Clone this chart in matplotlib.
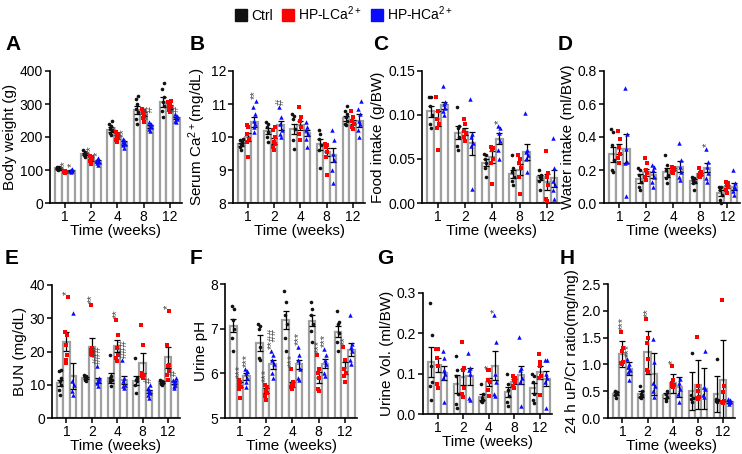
import numpy as np
import matplotlib
matplotlib.use("Agg")
import matplotlib.pyplot as plt
from matplotlib.lines import Line2D

plt.rcParams['font.family'] = ['Liberation Sans', 'DejaVu Sans']
plt.rcParams['mathtext.fontset'] = 'custom'
plt.rcParams['mathtext.rm'] = 'Liberation Sans'
plt.rcParams['mathtext.it'] = 'Liberation Sans'
plt.rcParams['mathtext.bf'] = 'Liberation Sans:bold'

weeks = ["1", "2", "4", "8", "12"]
groups = ["Ctrl", "HP-LCa$^{2+}$", "HP-HCa$^{2+}$"]

# ---------- A: body weight ----------
A_mean = [[105, 148, 222, 282, 305], [95, 133, 200, 270, 292], [98, 125, 182, 232, 258]]
A_sem = [[2, 3, 7, 12, 15], [2, 5, 6, 6, 6], [2, 4, 5, 4, 4]]
A_pts = [
    [[100, 103, 105, 107, 108, 110, 104], [140, 145, 148, 150, 155, 160], [205, 212, 220, 225, 232, 240, 250],
     [240, 255, 275, 285, 300, 315, 325], [260, 280, 295, 305, 320, 345, 365]],
    [[90, 93, 95, 97, 98, 96], [118, 128, 132, 135, 140, 142, 134], [185, 192, 198, 203, 210, 215],
     [245, 258, 265, 272, 280, 285], [275, 283, 290, 295, 300, 305, 310]],
    [[94, 96, 98, 100, 102, 97], [115, 120, 125, 130, 135, 126], [168, 175, 180, 185, 190, 195],
     [218, 225, 230, 235, 240, 245], [245, 250, 255, 260, 265, 270]],
]
A_sig = [["", "", "", "", ""], ["**", "**", "*", "", ""], ["*", "*", "**", "**#", "#"]]

# ---------- B: serum Ca ----------
B_mean = [[9.78, 10.18, 10.25, 9.78, 10.57], [10.0, 9.88, 10.35, 9.55, 10.45], [10.45, 10.35, 10.12, 9.45, 10.5]]
B_sem = [[0.05, 0.1, 0.15, 0.17, 0.08], [0.13, 0.08, 0.13, 0.12, 0.07], [0.15, 0.15, 0.1, 0.22, 0.2]]
B_pts = [
    [[9.6, 9.7, 9.75, 9.8, 9.85, 9.9, 9.95], [9.85, 10.0, 10.15, 10.3, 10.4, 10.45], [9.65, 9.9, 10.25, 10.55, 10.65, 10.7],
     [9.05, 9.6, 9.75, 9.95, 10.1, 10.2], [10.35, 10.4, 10.5, 10.6, 10.7, 10.8, 10.95]],
    [[9.4, 9.85, 9.95, 10.1, 10.3, 10.35], [9.6, 9.7, 9.8, 9.85, 10.0, 10.2, 10.3], [9.9, 10.1, 10.3, 10.5, 10.6, 10.9],
     [8.85, 9.4, 9.55, 9.7, 9.75, 9.8], [10.25, 10.3, 10.4, 10.5, 10.6, 10.8]],
    [[10.15, 10.3, 10.4, 10.5, 10.7, 10.9, 11.1], [10.0, 10.1, 10.2, 10.4, 10.6, 10.9], [9.7, 9.95, 10.1, 10.2, 10.3, 10.45],
     [8.6, 9.0, 9.3, 9.5, 9.9, 10.2], [10.0, 10.2, 10.4, 10.5, 10.7, 10.85, 11.1]],
]
B_sig = [["", "", "", "", ""], ["", "", "", "", ""], ["**", "#", "", "", ""]]

# ---------- C: food intake ----------
C_mean = [[0.104, 0.080, 0.046, 0.033, 0.029], [0.096, 0.081, 0.052, 0.038, 0.024], [0.111, 0.068, 0.073, 0.058, 0.028]]
C_sem = [[0.006, 0.007, 0.004, 0.005, 0.003], [0.008, 0.004, 0.007, 0.006, 0.009], [0.004, 0.013, 0.006, 0.009, 0.01]]
C_pts = [
    [[0.085, 0.09, 0.1, 0.11, 0.12, 0.121], [0.06, 0.065, 0.075, 0.085, 0.088, 0.109], [0.03, 0.04, 0.045, 0.05, 0.055, 0.056],
     [0.02, 0.025, 0.03, 0.035, 0.04, 0.055], [0.015, 0.025, 0.028, 0.03, 0.032, 0.037]],
    [[0.06, 0.085, 0.09, 0.095, 0.105, 0.121], [0.07, 0.075, 0.08, 0.082, 0.09, 0.096], [0.022, 0.045, 0.05, 0.06, 0.062, 0.064],
     [0.01, 0.03, 0.04, 0.045, 0.05, 0.055], [0.002, 0.005, 0.02, 0.03, 0.034, 0.059]],
    [[0.10, 0.105, 0.108, 0.112, 0.115, 0.133], [0.016, 0.065, 0.068, 0.075, 0.078, 0.118], [0.05, 0.06, 0.07, 0.08, 0.085, 0.088],
     [0.035, 0.05, 0.055, 0.058, 0.06, 0.102], [0.005, 0.015, 0.02, 0.025, 0.04, 0.074]],
]
C_sig = [["", "", "", "", ""], ["", "", "", "", ""], ["", "", "*", "", ""]]

# ---------- D: water intake ----------
D_mean = [[0.295, 0.148, 0.185, 0.132, 0.062], [0.325, 0.185, 0.205, 0.175, 0.10], [0.33, 0.17, 0.22, 0.215, 0.10]]
D_sem = [[0.045, 0.025, 0.025, 0.012, 0.018], [0.03, 0.02, 0.008, 0.008, 0.012], [0.09, 0.02, 0.035, 0.03, 0.02]]
D_pts = [
    [[0.19, 0.2, 0.26, 0.35, 0.43, 0.45], [0.08, 0.1, 0.13, 0.17, 0.2, 0.215], [0.12, 0.15, 0.17, 0.2, 0.23, 0.29],
     [0.08, 0.12, 0.13, 0.14, 0.15, 0.155], [0.0, 0.02, 0.05, 0.08, 0.1, 0.1]],
    [[0.24, 0.27, 0.3, 0.34, 0.39, 0.435], [0.14, 0.16, 0.18, 0.2, 0.24, 0.27], [0.18, 0.19, 0.2, 0.21, 0.215, 0.22],
     [0.16, 0.165, 0.17, 0.18, 0.19, 0.21], [0.06, 0.08, 0.1, 0.11, 0.12, 0.13]],
    [[0.045, 0.24, 0.25, 0.33, 0.42, 0.70], [0.1, 0.13, 0.16, 0.2, 0.22, 0.23], [0.14, 0.16, 0.19, 0.22, 0.26, 0.365],
     [0.13, 0.15, 0.18, 0.22, 0.25, 0.33], [0.05, 0.07, 0.09, 0.1, 0.12, 0.2]],
]
D_sig = [["", "", "", "", ""], ["", "", "", "", ""], ["", "", "", "*", ""]]

# ---------- E: BUN ----------
E_mean = [[10.5, 12.0, 12.0, 11.2, 10.7], [23.0, 21.5, 21.8, 16.5, 18.2], [12.6, 11.3, 11.3, 8.0, 10.7]]
E_sem = [[1.0, 0.3, 1.5, 1.3, 0.3], [2.8, 2.6, 1.8, 2.9, 3.3], [4.0, 0.8, 1.2, 0.5, 0.4]]
E_pts = [
    [[7, 8.5, 10, 11, 12, 14, 14.5], [11, 11.5, 12, 12.3, 12.6, 13], [9.5, 11, 11.5, 12, 12.5, 19],
     [7.5, 10, 11, 11.5, 12, 18], [10, 10.3, 10.5, 10.8, 11, 11.5]],
    [[16.5, 17.5, 19, 22, 25, 26, 36.3], [19, 19.5, 20, 20.5, 21, 34], [17, 18, 19, 21, 25, 29.5],
     [12, 12.5, 13, 13.5, 22, 28], [11.5, 13, 14, 15.5, 16, 22, 32.3]],
    [[7, 8, 10, 11, 31.5], [9.5, 10.5, 11, 11.5, 12, 15.5], [9, 9.5, 10, 11, 12, 17.5],
     [6, 7, 7.5, 8, 8.5, 9, 10], [9, 9.5, 10, 10.5, 11, 11.5, 12]],
]
E_sig = [["", "", "", "", ""], ["*", "**", "**", "", "*"], ["", "###", "###", "#", "#"]]

# ---------- F: urine pH ----------
F_mean = [[7.07, 6.68, 7.2, 7.18, 6.93], [5.75, 5.62, 5.75, 5.9, 6.12], [5.93, 6.2, 6.2, 6.22, 6.53]]
F_sem = [[0.15, 0.17, 0.2, 0.12, 0.12], [0.06, 0.05, 0.05, 0.12, 0.13], [0.08, 0.1, 0.1, 0.1, 0.15]]
F_pts = [
    [[6.5, 6.8, 7.0, 7.2, 7.45, 7.5], [6.3, 6.35, 6.6, 7.0, 7.05, 7.1], [6.5, 6.8, 7.1, 7.3, 7.6, 7.85],
     [6.7, 6.95, 7.1, 7.3, 7.45, 7.6], [6.5, 6.7, 6.9, 7.1, 7.15, 7.4]],
    [[5.45, 5.65, 5.7, 5.75, 5.8, 5.85], [5.4, 5.5, 5.55, 5.6, 5.7, 5.75], [5.65, 5.7, 5.72, 5.75, 5.8, 6.1],
     [5.6, 5.65, 5.9, 6.0, 6.1, 6.4], [5.8, 5.95, 6.0, 6.1, 6.3, 6.6]],
    [[5.7, 5.8, 5.9, 6.0, 6.05, 6.1], [5.9, 6.0, 6.2, 6.3, 6.4, 6.5], [5.85, 5.9, 6.1, 6.3, 6.4, 6.6],
     [5.95, 6.0, 6.2, 6.3, 6.4, 6.55], [6.2, 6.3, 6.5, 6.6, 6.65, 7.3]],
]
F_sig = [["", "", "", "", ""], ["***", "***", "***", "***", "**"], ["***", "**##", "***", "***", ""]]

# ---------- G: urine volume ----------
G_mean = [[0.128, 0.075, 0.042, 0.055, 0.064], [0.122, 0.091, 0.080, 0.080, 0.103], [0.102, 0.093, 0.120, 0.096, 0.088]]
G_sem = [[0.037, 0.022, 0.008, 0.012, 0.012], [0.018, 0.02, 0.01, 0.006, 0.015], [0.018, 0.02, 0.035, 0.022, 0.018]]
G_pts = [
    [[0.035, 0.07, 0.08, 0.12, 0.195, 0.275], [0.015, 0.025, 0.05, 0.095, 0.11, 0.145], [0.03, 0.032, 0.035, 0.04, 0.05, 0.075],
     [0.02, 0.03, 0.045, 0.06, 0.075, 0.1], [0.028, 0.035, 0.05, 0.08, 0.095, 0.098]],
    [[0.065, 0.075, 0.12, 0.14, 0.16, 0.16], [0.043, 0.05, 0.065, 0.11, 0.115, 0.178], [0.045, 0.06, 0.08, 0.085, 0.108, 0.108],
     [0.065, 0.07, 0.08, 0.085, 0.09, 0.095], [0.048, 0.09, 0.095, 0.12, 0.13, 0.15]],
    [[0.03, 0.09, 0.1, 0.11, 0.14, 0.155], [0.035, 0.04, 0.1, 0.11, 0.115, 0.152], [0.045, 0.05, 0.08, 0.1, 0.178, 0.245],
     [0.02, 0.08, 0.09, 0.11, 0.115, 0.19], [0.015, 0.08, 0.09, 0.1, 0.133, 0.133]],
]
G_sig = [["", "", "", "", ""], ["", "", "*", "", ""], ["", "", "*", "", ""]]

# ---------- H: uP/Cr ----------
H_mean = [[0.45, 0.45, 0.42, 0.50, 0.45], [1.20, 1.23, 0.65, 0.62, 0.70], [0.92, 0.82, 0.58, 0.55, 0.30]]
H_sem = [[0.03, 0.05, 0.04, 0.36, 0.33], [0.24, 0.40, 0.18, 0.46, 0.75], [0.12, 0.40, 0.18, 0.38, 0.02]]
H_pts = [
    [[0.38, 0.42, 0.44, 0.46, 0.48, 0.5], [0.38, 0.4, 0.42, 0.45, 0.5, 0.6], [0.32, 0.36, 0.4, 0.45, 0.5],
     [0.3, 0.35, 0.38, 0.42, 1.22], [0.3, 0.32, 0.33, 0.35, 1.1]],
    [[1.0, 1.02, 1.05, 1.25, 1.3, 1.6], [0.85, 0.9, 1.1, 1.4, 1.5, 1.85], [0.58, 0.6, 0.62, 0.65, 0.7, 0.97],
     [0.35, 0.38, 0.4, 0.5, 0.6, 1.52], [0.28, 0.3, 0.32, 0.48, 0.6, 2.2]],
    [[0.7, 0.85, 0.9, 0.95, 1.0, 1.1], [0.4, 0.5, 0.6, 0.65, 1.05, 1.48], [0.3, 0.45, 0.55, 0.65, 0.73],
     [0.4, 0.42, 0.55, 0.58, 1.25], [0.27, 0.29, 0.3, 0.31, 0.33, 0.36]],
]
H_sig = [["", "", "", "", ""], ["***", "**", "*", "", ""], ["***", "", "", "", ""]]

# ---------- style / layout ----------
W, Hh = 742, 454
colors = ["#111111", "#ff0000", "#0a0aff"]
markers = ["o", "s", "^"]
msizes = [2.6, 3.0, 3.2]
jit = [0.0, -0.035, 0.035, -0.018, 0.018, -0.05, 0.05]
bw = 0.25
offs = [-bw, 0, bw]

panels = [
    ("A", A_mean, A_sem, A_pts, A_sig, (0, 400), [0, 100, 200, 300, 400], None, "Body weight (g)", (50, 182, 71, 203)),
    ("B", B_mean, B_sem, B_pts, B_sig, (8, 12), [8, 9, 10, 11, 12], None, "Serum Ca$^{2+}$(mg/dL)", (233, 365, 71, 203)),
    ("C", C_mean, C_sem, C_pts, C_sig, (0, 0.15), [0, 0.05, 0.10, 0.15], "%.2f", "Food intake (g/BW)", (422, 560, 71, 203)),
    ("D", D_mean, D_sem, D_pts, D_sig, (0, 0.8), [0, 0.2, 0.4, 0.6, 0.8], "%.1f", "Water intake (ml/BW)", (604, 740, 71, 203)),
    ("E", E_mean, E_sem, E_pts, E_sig, (0, 40), [0, 10, 20, 30, 40], None, "BUN (mg/dL)", (52, 180, 285, 418)),
    ("F", F_mean, F_sem, F_pts, F_sig, (5, 8), [5, 6, 7, 8], None, "Urine pH", (225, 357, 284, 418)),
    ("G", G_mean, G_sem, G_pts, G_sig, (0, 0.3), [0, 0.1, 0.2, 0.3], "%.1f", "Urine Vol. (ml/BW)", (423, 552, 293, 414)),
    ("H", H_mean, H_sem, H_pts, H_sig, (0, 2.5), [0, 0.5, 1.0, 1.5, 2.0, 2.5], "%.1f", "24 h uP/Cr ratio(mg/mg)", (608, 735, 284, 418)),
]
letter_pos = {"A": (5, 44), "B": (190, 44), "C": (373, 44), "D": (558, 44),
              "E": (5, 259), "F": (190, 259), "G": (377, 259), "H": (560, 259)}

fig = plt.figure(figsize=(W / 100, Hh / 100), dpi=100)

for (lab, mean, sem, pts, sig, ylim, yt, fmt, ylabel, (x0, x1, yt0, yb0)) in panels:
    ax = fig.add_axes([x0 / W, 1 - yb0 / Hh, (x1 - x0) / W, (yb0 - yt0) / Hh])
    x = np.arange(1, 6)
    yr = ylim[1] - ylim[0]
    for g in range(3):
        xs = x + offs[g]
        m = np.array(mean[g])
        s = np.array(sem[g])
        ax.bar(xs, m - ylim[0], bottom=ylim[0], width=bw, color="white", edgecolor="#a0a0a0",
               linewidth=1.6, zorder=1)
        ax.errorbar(xs, m, yerr=s, fmt="none", ecolor="black", elinewidth=0.9, capsize=2.0,
                    capthick=0.9, zorder=3)
        for w in range(5):
            p = np.array(pts[g][w])
            jx = [xs[w] + jit[i % len(jit)] for i in range(len(p))]
            ax.plot(jx, p, linestyle="none", marker=markers[g], ms=msizes[g], color=colors[g],
                    markeredgewidth=0, zorder=4, clip_on=False)
            if sig[g][w]:
                ytop = max(p.max(), m[w] + s[w]) + 0.015 * yr
                ax.text(xs[w], ytop, sig[g][w], rotation=90, ha="center", va="bottom",
                        fontsize=8, color="#444444", zorder=5)
    ax.set_xlim(0.43, 5.47)
    ax.set_ylim(*ylim)
    ax.set_xticks(x)
    ax.set_xticklabels(weeks)
    ax.set_yticks(yt)
    if fmt:
        ax.set_yticklabels([fmt % v for v in yt])
    for sp in ["top", "right"]:
        ax.spines[sp].set_visible(False)
    for sp in ["left", "bottom"]:
        ax.spines[sp].set_linewidth(1.2)
    ax.tick_params(axis="both", width=1.1, length=3.5, labelsize=10, pad=1.5, direction="out")
    ax.set_xlabel("Time (weeks)", fontsize=11, labelpad=0)
    ax.set_ylabel(ylabel, fontsize=11, labelpad=2)
    lx, ly = letter_pos[lab]
    fig.text(lx / W, 1 - ly / Hh, lab, fontsize=15, fontweight="bold", ha="left", va="center")

handles = [Line2D([], [], linestyle="none", marker="s", ms=8, color=c) for c in colors]
fig.legend(handles, groups, loc="center", bbox_to_anchor=(344 / W, 1 - 14 / Hh), ncol=3,
           frameon=False, fontsize=10, handletextpad=0.3, columnspacing=0.6, handlelength=0.9)

fig.savefig("out.png", dpi=100)
